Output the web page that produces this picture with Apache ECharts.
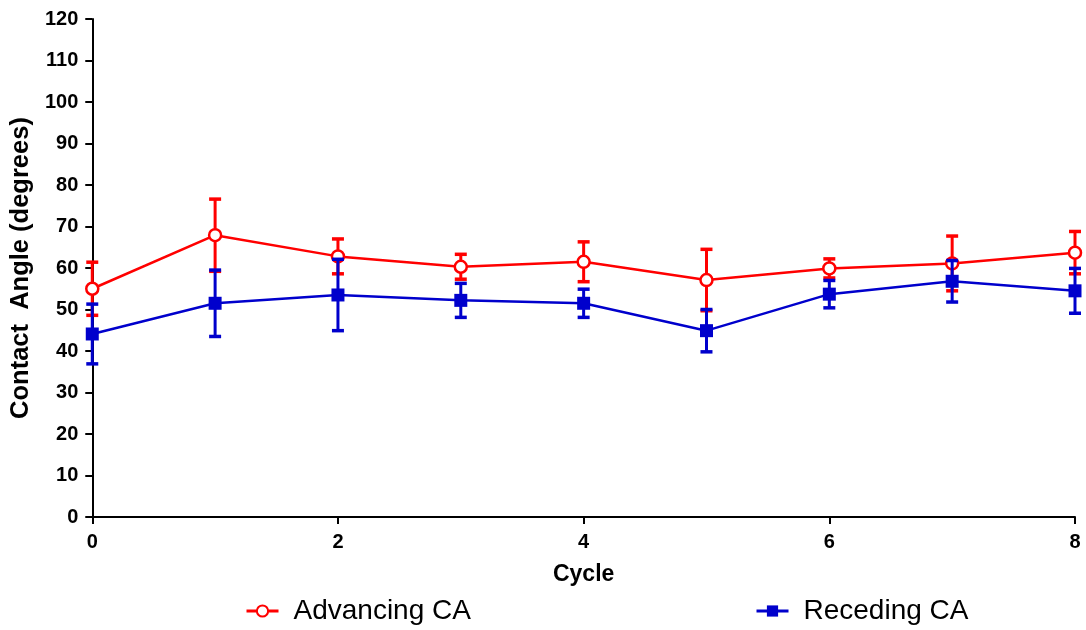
<!DOCTYPE html>
<html>
<head>
	<meta charset="UTF-8">
	<title>Contact Angle</title>
	<style type="text/css">
		html, body { margin: 0; padding: 0; background: #fff; }
		#chart { width: 1086px; height: 630px; }
	</style>
</head>
<body>
	<div id="chart"></div>
	<script src="https://cdn.jsdelivr.net/npm/echarts@6/dist/echarts.min.js"></script>
	<script type="text/javascript">
		// values
		var cycles = [0, 1, 2, 3, 4, 5, 6, 7, 8];
		var advMean = [55.0, 67.9, 62.8, 60.3, 61.5, 57.1, 59.9, 61.1, 63.7];
		var advErr = [6.4, 8.7, 4.2, 3.0, 4.8, 7.4, 2.3, 6.6, 5.1];
		var recMean = [44.1, 51.5, 53.5, 52.2, 51.5, 44.9, 53.7, 56.8, 54.5];
		var recErr = [7.2, 8.0, 8.6, 4.1, 3.4, 5.1, 3.3, 5.0, 5.4];

		var RED = '#FF0000';
		var BLUE = '#0000CC';
		var FONT = 'Liberation Sans, Arial, sans-serif';

		function pairs(xs, ys) {
			return xs.map(function(x, i) { return [x, ys[i]]; });
		}

		function errData(xs, m, e) {
			return xs.map(function(x, i) { return [x, m[i] - e[i], m[i] + e[i]]; });
		}

		function errorBars(color) {
			return function(params, api) {
				var lo = api.coord([api.value(0), api.value(1)]);
				var hi = api.coord([api.value(0), api.value(2)]);
				var w = 6;
				var st = { stroke: color, lineWidth: 3 };
				return {
					type: 'group',
					children: [
						{ type: 'line', shape: { x1: hi[0], y1: hi[1], x2: lo[0], y2: lo[1] }, style: st },
						{ type: 'line', shape: { x1: hi[0] - w, y1: hi[1], x2: hi[0] + w, y2: hi[1] }, style: { stroke: color, lineWidth: 3.5 } },
						{ type: 'line', shape: { x1: lo[0] - w, y1: lo[1], x2: lo[0] + w, y2: lo[1] }, style: { stroke: color, lineWidth: 3.5 } }
					]
				};
			};
		}

		var chart = echarts.init(document.getElementById('chart'));

		var legendBase = {
			top: 592,
			itemWidth: 32, itemHeight: 14,
			lineStyle: { width: 3 },
			textStyle: { fontFamily: FONT, fontSize: 28, color: '#000', padding: [0, 0, 0, 10] }
		};

		var option = {
			animation: false,
			grid: { left: 91, right: 11, top: 19, bottom: 113 },
			legend: [
				Object.assign({ data: ['Advancing CA'], left: 240 }, legendBase),
				Object.assign({ data: ['Receding CA'], left: 750 }, legendBase)
			],
			xAxis: {
				type: 'value',
				min: 0, max: 8, interval: 2,
				name: 'Cycle',
				nameLocation: 'middle',
				nameGap: 46,
				nameTextStyle: { fontFamily: FONT, fontSize: 23, fontWeight: 'bold', color: '#000' },
				axisLine: { lineStyle: { color: '#000', width: 2 } },
				axisTick: { length: 7, lineStyle: { color: '#000', width: 2 } },
				axisLabel: { margin: 15, fontFamily: FONT, fontSize: 20, fontWeight: 'bold', color: '#000' },
				splitLine: { show: false }
			},
			yAxis: {
				type: 'value',
				min: 0, max: 120, interval: 10,
				name: 'Contact  Angle (degrees)',
				nameLocation: 'middle',
				nameGap: 58,
				nameTextStyle: { fontFamily: FONT, fontSize: 25.5, fontWeight: 'bold', color: '#000' },
				axisLine: { show: true, lineStyle: { color: '#000', width: 2 } },
				axisTick: { show: true, length: 7, lineStyle: { color: '#000', width: 2 } },
				axisLabel: { margin: 14, fontFamily: FONT, fontSize: 20, fontWeight: 'bold', color: '#000' },
				splitLine: { show: false }
			},
			series: [{
				name: 'Advancing CA',
				type: 'line',
				data: pairs(cycles, advMean),
				symbol: 'circle',
				symbolSize: 12,
				itemStyle: { color: '#fff', borderColor: RED, borderWidth: 2.5 },
				lineStyle: { color: RED, width: 2.5 },
				z: 3
			}, {
				type: 'custom',
				data: errData(cycles, advMean, advErr),
				renderItem: errorBars(RED),
				z: 2
			}, {
				name: 'Receding CA',
				type: 'line',
				data: pairs(cycles, recMean),
				symbol: 'rect',
				symbolSize: 13,
				itemStyle: { color: BLUE },
				lineStyle: { color: BLUE, width: 2.5 },
				z: 5
			}, {
				type: 'custom',
				data: errData(cycles, recMean, recErr),
				renderItem: errorBars(BLUE),
				z: 4
			}]
		};

		chart.setOption(option);
	</script>
</body>
</html>
